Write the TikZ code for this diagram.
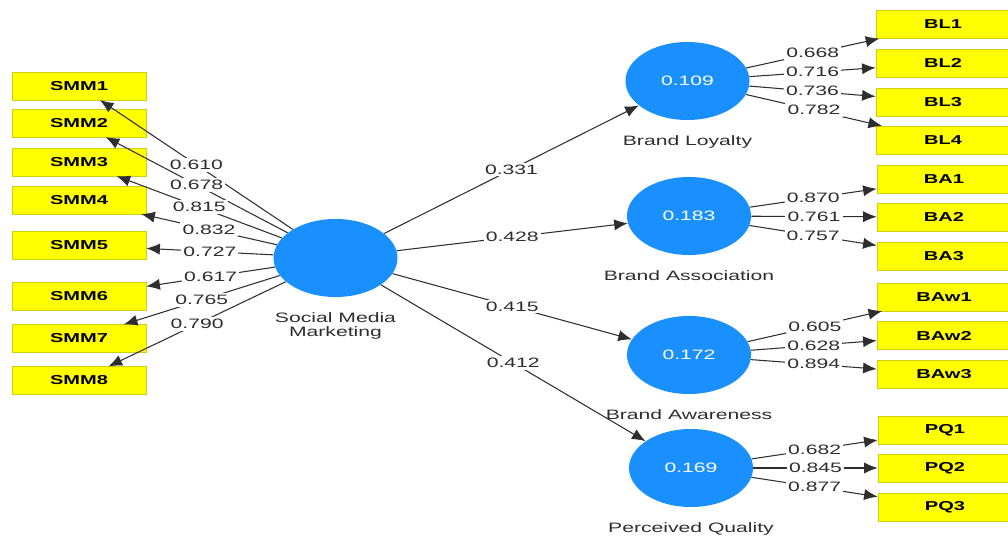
\documentclass[tikz,border=0pt]{standalone}
\usepackage{fontspec}
\setmainfont[FakeStretch=1.55]{Liberation Sans}
\definecolor{BleuLatent}{HTML}{1A90FF}
\definecolor{JauneItem}{HTML}{FFFF00}
\definecolor{BordItem}{HTML}{CFCF10}
\definecolor{GrisTrait}{HTML}{2E2E2E}
\usetikzlibrary{shapes.geometric, arrows.meta, positioning}

\begin{document}
\begin{tikzpicture}
	[x=0.025cm, y=-0.025cm,
	every node/.style = {font=\fontsize{9.7}{10}\selectfont, text=GrisTrait},
	latent/.style = {ellipse, fill=BleuLatent, minimum width=3.1cm, minimum height=1.95cm,
		inner sep=0pt, text=white},
	item/.style = {rectangle, fill=JauneItem, draw=BordItem, minimum width=3.35cm,
		minimum height=0.69cm, inner sep=0pt, text=black,
		font=\fontsize{9.2}{10}\selectfont\bfseries},
	nom/.style = {below=0.34cm of #1, align=center, inner sep=1pt},
	coef/.style = {fill=white, inner sep=1.5pt},
	fleche/.style = {draw=GrisTrait, line width=0.75pt, -{Latex[length=3.4mm, width=2.8mm]}}]
	\useasboundingbox (0,0) rectangle (1008,536);

	% latent variables
	\node[latent] (smm) at (335.5,258) {};
	\node[latent] (bl) at (687.5,81) {0.109};
	\node[latent] (ba) at (689,216) {0.183};
	\node[latent] (baw) at (689,355) {0.172};
	\node[latent] (pq) at (691,468) {0.169};
	\node[nom=smm] {Social Media\\Marketing};
	\node[nom=bl] {Brand Loyalty};
	\node[nom=ba] {Brand Association};
	\node[nom=baw] {Brand Awareness};
	\node[nom=pq] {Perceived Quality};

	% indicators
	\node[item] (smm1) at (79,86) {SMM1};
	\node[item] (smm2) at (79,123) {SMM2};
	\node[item] (smm3) at (79,162) {SMM3};
	\node[item] (smm4) at (79,200) {SMM4};
	\node[item] (smm5) at (79,245) {SMM5};
	\node[item] (smm6) at (79,296.5) {SMM6};
	\node[item] (smm7) at (79,338.5) {SMM7};
	\node[item] (smm8) at (79,380.5) {SMM8};
	\node[item] (bl1) at (943,24.5) {BL1};
	\node[item] (bl2) at (943,63) {BL2};
	\node[item] (bl3) at (943,102) {BL3};
	\node[item] (bl4) at (943,140) {BL4};
	\node[item] (ba1) at (944,179) {BA1};
	\node[item] (ba2) at (944,217) {BA2};
	\node[item] (ba3) at (944,256) {BA3};
	\node[item] (baw1) at (944,297) {BAw1};
	\node[item] (baw2) at (944,335.5) {BAw2};
	\node[item] (baw3) at (944,374) {BAw3};
	\node[item] (pq1) at (945,430) {PQ1};
	\node[item] (pq2) at (945,468) {PQ2};
	\node[item] (pq3) at (945,507) {PQ3};

	% outer loadings
	\draw[fleche] (smm) -- node[coef] {0.610} (smm1);
	\draw[fleche] (smm) -- node[coef] {0.678} (smm2);
	\draw[fleche] (smm) -- node[coef] {0.815} (smm3);
	\draw[fleche] (smm) -- node[coef] {0.832} (smm4);
	\draw[fleche] (smm) -- node[coef] {0.727} (smm5);
	\draw[fleche] (smm) -- node[coef] {0.617} (smm6);
	\draw[fleche] (smm) -- node[coef] {0.765} (smm7);
	\draw[fleche] (smm) -- node[coef] {0.790} (smm8);
	\draw[fleche] (bl) -- node[coef] {0.668} (bl1);
	\draw[fleche] (bl) -- node[coef] {0.716} (bl2);
	\draw[fleche] (bl) -- node[coef] {0.736} (bl3);
	\draw[fleche] (bl) -- node[coef] {0.782} (bl4);
	\draw[fleche] (ba) -- node[coef] {0.870} (ba1);
	\draw[fleche] (ba) -- node[coef] {0.761} (ba2);
	\draw[fleche] (ba) -- node[coef] {0.757} (ba3);
	\draw[fleche] (baw) -- node[coef] {0.605} (baw1);
	\draw[fleche] (baw) -- node[coef] {0.628} (baw2);
	\draw[fleche] (baw) -- node[coef] {0.894} (baw3);
	\draw[fleche] (pq) -- node[coef] {0.682} (pq1);
	\draw[fleche] (pq) -- node[coef] {0.845} (pq2);
	\draw[fleche] (pq) -- node[coef] {0.877} (pq3);

	% path coefficients
	\draw[fleche] (smm) -- node[coef] {0.331} (bl);
	\draw[fleche] (smm) -- node[coef] {0.428} (ba);
	\draw[fleche] (smm) -- node[coef] {0.415} (baw);
	\draw[fleche] (smm) -- node[coef] {0.412} (pq);
\end{tikzpicture}
\end{document}
